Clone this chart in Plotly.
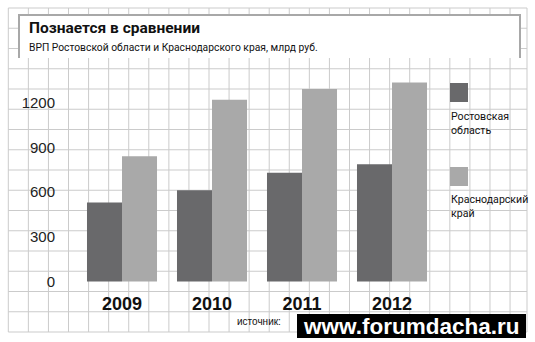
import plotly.graph_objects as go

years = ["2009", "2010", "2011", "2012"]
rostov = [530, 612, 729, 786]
krasnodar = [839, 1219, 1290, 1335]
series_names = ["Ростовская<br>область", "Краснодарский<br>край"]
y_ticks = [0, 300, 600, 900, 1200]
title = "Познается в сравнении"
subtitle = "ВРП Ростовской области и Краснодарского края, млрд руб."
source = "источник:"
watermark = "www.forumdacha.ru"

W, H = 535, 342
ML, MR, MT, MB = 77, 98, 70, 52
PW, PH = W - ML - MR, H - MT - MB

def px(x):
    return (x - ML) / PW

def py(y):
    return (H - MB - y) / PH

dark = "#69696b"
light = "#a9a9a9"
gridc = "#cbcbcb"

fig = go.Figure()
fig.add_trace(go.Bar(x=years, y=rostov, name=series_names[0], marker=dict(color=dark, line=dict(width=0))))
fig.add_trace(go.Bar(x=years, y=krasnodar, name=series_names[1], marker=dict(color=light, line=dict(width=0))))

shapes = []
# background grid
xs = [8.3 + 20.07 * k for k in range(26)] + [527]
ys = [8 + 20.25 * k for k in range(17)]
for x in xs:
    shapes.append(dict(type="line", xref="paper", yref="paper", x0=px(x), x1=px(x), y0=py(8), y1=py(332),
                       line=dict(color=gridc, width=1), layer="below"))
for y in ys:
    shapes.append(dict(type="line", xref="paper", yref="paper", x0=px(8.3), x1=px(527), y0=py(y), y1=py(y),
                       line=dict(color=gridc, width=1), layer="below"))
# title box
shapes.append(dict(type="rect", xref="paper", yref="paper", x0=px(19), x1=px(520), y0=py(15), y1=py(58),
                   fillcolor="white", line=dict(width=0), layer="below"))
shapes.append(dict(type="path", xref="paper", yref="paper",
                   path="M {},{} L {},{} L {},{} L {},{}".format(px(19), py(58), px(19), py(15), px(520), py(15), px(520), py(58)),
                   line=dict(color="#a8a8a8", width=2), layer="below"))
# legend squares
shapes.append(dict(type="rect", xref="paper", yref="paper", x0=px(450), x1=px(468), y0=py(83), y1=py(102),
                   fillcolor=dark, line=dict(width=0)))
shapes.append(dict(type="rect", xref="paper", yref="paper", x0=px(450), x1=px(468), y0=py(167), y1=py(186),
                   fillcolor=light, line=dict(width=0)))
# watermark box
shapes.append(dict(type="rect", xref="paper", yref="paper", x0=px(297), x1=px(526), y0=py(314), y1=py(338),
                   fillcolor="black", line=dict(width=0)))

annotations = [
    dict(text="<b>" + title + "</b>", x=px(27), y=py(27.5), xref="paper", yref="paper", xanchor="left", yanchor="middle",
         showarrow=False, font=dict(family="Roboto", size=15.5, color="#111")),
    dict(text=subtitle, x=px(27), y=py(47.5), xref="paper", yref="paper", xanchor="left", yanchor="middle",
         showarrow=False, font=dict(family="Roboto", size=10.3, color="#111")),
    dict(text=series_names[0], x=px(449), y=py(108), xref="paper", yref="paper", xanchor="left", yanchor="top",
         align="left", showarrow=False, font=dict(family="Roboto", size=10.6, color="#111")),
    dict(text=series_names[1], x=px(449), y=py(191), xref="paper", yref="paper", xanchor="left", yanchor="top",
         align="left", showarrow=False, font=dict(family="Roboto", size=10.6, color="#111")),
    dict(text=source, x=px(235), y=py(321), xref="paper", yref="paper", xanchor="left", yanchor="middle",
         showarrow=False, font=dict(family="Liberation Sans", size=10, color="#111")),
    dict(text="<b>" + watermark + "</b>", x=px(411), y=py(326), xref="paper", yref="paper", xanchor="center", yanchor="middle",
         showarrow=False, font=dict(family="Liberation Sans", size=22.5, color="white")),
]

fig.update_layout(
    width=W, height=H,
    margin=dict(l=ML, r=MR, t=MT, b=MB, pad=0),
    paper_bgcolor="white", plot_bgcolor="rgba(0,0,0,0)",
    barmode="group", bargap=0.222, bargroupgap=0,
    showlegend=False,
    shapes=shapes, annotations=annotations,
    xaxis=dict(type="category", range=[-0.5, 3.5], showgrid=False, zeroline=False, showline=False, ticks="",
               tickfont=dict(family="Liberation Sans", size=18, color="#111"), tickprefix="<b>", ticksuffix="</b>",
               ticklabelstandoff=1),
    yaxis=dict(range=[-57, 1418], tickvals=y_ticks, showgrid=False, zeroline=False, showline=False, ticks="",
               tickfont=dict(family="Liberation Sans", size=15, color="#222"), ticklabelstandoff=21),
)

fig.write_html("out.html")
